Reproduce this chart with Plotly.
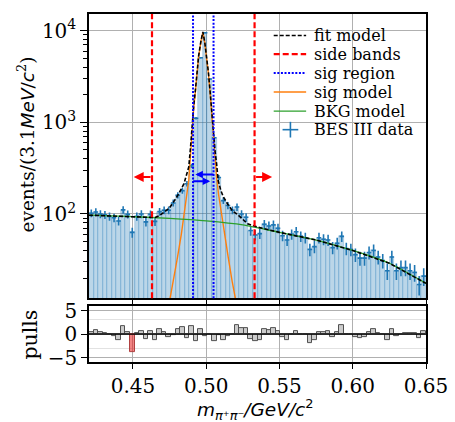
import numpy as np
import plotly.graph_objects as go

# ---------------- data ----------------
x_min, x_max = 0.42, 0.65
n_bins = 74
bin_w = (x_max - x_min) / n_bins
bin_centers = [x_min + (i + 0.5) * bin_w for i in range(n_bins)]

counts = [102, 105, 100, 98, 94, 91, 84, 111, 99, 63,
          94, 100, 82, 99, 83, 106, 110, 110, 132, 160,
          180, 214, 336, 1110, 5060, 9500, 2970, 678, 250, 140,
          124, 110, 119, 100, 92, 66, 59, 61, 77, 74,
          76, 70, 58, 52, 60, 64, 57, 55, 41, 44,
          55, 53, 52, 43, 48, 57, 42, 41, 36, 33,
          33, 38, 40, 34, 31, 24, 34, 24, 26, 26,
          24, 23, 17, 21]

pulls = [0.5, 0.8, 0.4, 0.2, -0.1, -0.4, -1.2, 1.6, 0.5, -3.9,
         0.1, 0.7, -1.1, 0.7, -1.3, 1.0, 0.5, -0.6, -0.3, 1.0,
         1.5, -0.9, 1.6, -1.6, 1.0, -0.4, 0.0, -1.6, -0.2, -1.3,
         -0.4, 0.0, 1.9, 1.2, 1.2, -1.1, -1.6, -1.2, 1.0, 0.8,
         1.2, 0.7, -0.6, -1.3, 0.0, 0.7, 0.0, -0.1, -2.0, -1.3,
         0.5, 0.5, 0.6, -0.6, 0.4, 1.8, 0.0, 0.0, -0.6, -0.9,
         -0.7, 0.4, 1.0, 0.3, 0.0, -1.2, 1.0, -0.5, 0.0, 0.3,
         0.3, 0.3, -0.8, 0.6]

fit_x = [0.420, 0.440, 0.460, 0.465, 0.4681, 0.4714, 0.4748, 0.4781, 0.4814,
         0.4848, 0.4881, 0.4893, 0.4903, 0.4915, 0.4926, 0.4948, 0.4964,
         0.4977, 0.4990, 0.5006, 0.5015, 0.5027, 0.5037, 0.5049, 0.5060,
         0.5071, 0.5082, 0.5100, 0.5115, 0.5149, 0.5180, 0.5216, 0.5250,
         0.5283, 0.535, 0.550, 0.575, 0.600, 0.625, 0.650]
fit_y = [97, 94.7, 92, 91.5, 96, 105, 116, 138, 168,
         214, 326, 535, 940, 1540, 2230, 5270, 7700,
         9700, 7500, 4800, 3495, 2140, 1300, 735, 490,
         350, 230, 180, 156, 126, 108, 98, 87,
         78, 72, 63, 52, 40, 29, 17.5]

sig_x = [0.4723, 0.4750, 0.4776, 0.4803, 0.4830, 0.4850, 0.4870, 0.4881,
         0.4893, 0.4903, 0.4915, 0.4926, 0.4948, 0.4964, 0.4977, 0.4990,
         0.5006, 0.5015, 0.5027, 0.5037, 0.5049, 0.5060, 0.5071, 0.5084,
         0.5104, 0.5124, 0.5151, 0.5178, 0.5204, 0.5231]
sig_y = [6.5, 11, 18, 33, 60, 100, 165, 235,
         440, 850, 1450, 2140, 5180, 7600, 9600, 7400,
         4700, 3410, 2060, 1220, 650, 400, 250, 165,
         100, 60, 33, 18, 11, 6.5]

bkg_x = [0.42, 0.45, 0.475, 0.50, 0.525, 0.55, 0.575, 0.60, 0.625, 0.65]
bkg_y = [97, 93.5, 89.5, 84, 76, 63, 52, 40, 29, 17.5]

side_bands = [0.463, 0.533]
sig_region = [0.491, 0.505]
# arrows: (tail x, head x, y value)
side_arrows = [(0.463, 0.4505, 253), (0.533, 0.545, 253)]
sig_arrows = [(0.506, 0.4926, 270), (0.4901, 0.5027, 227)]

x_ticks = [0.45, 0.50, 0.55, 0.60, 0.65]
x_ticktext = ["0.45", "0.50", "0.55", "0.60", "0.65"]

legend_labels = ["fit model", "side bands", "sig region", "sig model", "BKG model", "BES III data"]

# ---------------- style ----------------
C0, C1, C2 = "#1f77b4", "#ff7f0e", "#2ca02c"
SERIF = "DejaVu Serif"
SANS = "DejaVu Sans"

# plot-area geometry in pixels (for paper-coordinate placement of decorations)
W, H = 455, 422
ML, MR, MT, MB = 89, 23, 7, 60
PW, PH = W - ML - MR, H - MT - MB


def px2paper(px, py):
    return (px - ML) / PW, (H - MB - py) / PH


line_styles = [
    dict(color="black", width=1.6, dash="4px,2px"),
    dict(color="red", width=2.2, dash="6px,3px"),
    dict(color="blue", width=2, dash="2px,1.6px"),
    dict(color=C1, width=1.4),
    dict(color=C2, width=1.3),
]

fig = go.Figure()

# filled histogram (semi-transparent, like alpha=0.3)
fig.add_trace(go.Bar(
    x=bin_centers, y=counts, width=bin_w, xaxis="x", yaxis="y",
    marker=dict(color="rgba(31,119,180,0.3)", line=dict(color="rgba(31,119,180,0.4)", width=0.6)),
    showlegend=False, hoverinfo="skip"))

# data with error bars
fig.add_trace(go.Scatter(
    x=bin_centers, y=counts, mode="markers", xaxis="x", yaxis="y",
    marker=dict(size=1, color=C0),
    error_x=dict(type="constant", value=bin_w / 2, width=0, thickness=1.6, color=C0),
    error_y=dict(type="data", array=list(np.sqrt(counts)), width=0, thickness=1.6, color=C0),
    showlegend=False))

fig.add_trace(go.Scatter(x=sig_x, y=sig_y, mode="lines", line=line_styles[3],
                         xaxis="x", yaxis="y", showlegend=False))
fig.add_trace(go.Scatter(x=bkg_x, y=bkg_y, mode="lines",
                         line=dict(color=C2, width=1.3, shape="spline", smoothing=0.6),
                         xaxis="x", yaxis="y", showlegend=False))
fig.add_trace(go.Scatter(x=fit_x, y=fit_y, mode="lines", line=line_styles[0],
                         xaxis="x", yaxis="y", showlegend=False))

# pulls
pull_fill = ["rgba(230,30,30,0.55)" if abs(p) > 3 else "rgba(128,128,128,0.4)" for p in pulls]
pull_edge = ["#b04040" if abs(p) > 3 else "#505050" for p in pulls]
fig.add_trace(go.Bar(
    x=bin_centers, y=pulls, width=bin_w, xaxis="x2", yaxis="y2",
    marker=dict(color=pull_fill, line=dict(color=pull_edge, width=1)),
    showlegend=False))

shapes = []
for v in side_bands:
    shapes.append(dict(type="line", xref="x", yref="y domain", x0=v, x1=v, y0=0, y1=1,
                       line=line_styles[1], layer="above"))
for v in sig_region:
    shapes.append(dict(type="line", xref="x", yref="y domain", x0=v, x1=v, y0=0, y1=1,
                       line=line_styles[2], layer="above"))
shapes.append(dict(type="line", xref="x2 domain", yref="y2", x0=0, x1=1, y0=0, y1=0,
                   line=dict(color="black", width=1.2), layer="above"))

annotations = []
for (tx, hx, yv) in side_arrows:
    annotations.append(dict(x=hx, y=np.log10(yv), ax=tx, ay=np.log10(yv), xref="x", yref="y",
                            axref="x", ayref="y", showarrow=True, arrowhead=2, arrowsize=1.0,
                            arrowwidth=2, arrowcolor="red", text=""))
for (tx, hx, yv) in sig_arrows:
    annotations.append(dict(x=hx, y=np.log10(yv), ax=tx, ay=np.log10(yv), xref="x", yref="y",
                            axref="x", ayref="y", showarrow=True, arrowhead=2, arrowsize=0.75,
                            arrowwidth=2, arrowcolor="blue", text=""))

# custom legend (drawn in paper coordinates)
row_py = [29, 48, 67.3, 86.6, 106, 125]
for i, lab in enumerate(legend_labels):
    tx, ty = px2paper(316, row_py[i])
    annotations.append(dict(x=tx, y=ty, xref="paper", yref="paper", xanchor="left", yanchor="middle",
                            text=lab, showarrow=False,
                            font=dict(family=SERIF, size=16, color="black")))
    if i < 5:
        x0, y0 = px2paper(277, row_py[i])
        x1, _ = px2paper(310, row_py[i])
        shapes.append(dict(type="line", xref="paper", yref="paper", x0=x0, x1=x1, y0=y0, y1=y0,
                           line=line_styles[i]))
    else:
        xa, ya = px2paper(286, row_py[i])
        xb, _ = px2paper(302, row_py[i])
        xc, yc0 = px2paper(294, row_py[i] + 8)
        _, yc1 = px2paper(294, row_py[i] - 8)
        shapes.append(dict(type="line", xref="paper", yref="paper", x0=xa, x1=xb, y0=ya, y1=ya,
                           line=dict(color=C0, width=1.6)))
        shapes.append(dict(type="line", xref="paper", yref="paper", x0=xc, x1=xc, y0=yc0, y1=yc1,
                           line=dict(color=C0, width=1.6)))

# axis titles as annotations
ytx, yty = px2paper(25, 140)
annotations.append(dict(x=ytx, y=yty, xref="paper", yref="paper", xanchor="center", yanchor="middle",
                        textangle=-90, showarrow=False,
                        text="events/(3.1<span style='font-family:DejaVu Sans'><i>MeV</i>/<i>c</i></span><sup>2</sup>)",
                        font=dict(family=SERIF, size=18.5, color="black")))
ptx, pty = px2paper(28, 334)
annotations.append(dict(x=ptx, y=pty, xref="paper", yref="paper", xanchor="center", yanchor="middle",
                        textangle=-90, showarrow=False, text="pulls",
                        font=dict(family=SERIF, size=20.5, color="black")))
xtx, xty = px2paper(258, 410.5)
annotations.append(dict(x=xtx, y=xty, xref="paper", yref="paper", xanchor="center", yanchor="middle",
                        showarrow=False,
                        text="<i>m</i><sub><i>π⁺π⁻</i></sub><i>/GeV/c</i><sup>2</sup>",
                        font=dict(family=SANS, size=18.5, color="black")))

grid_c = "#b0b0b0"
axis_common = dict(showline=True, linecolor="black", linewidth=1.5, mirror=True,
                   ticks="outside", tickcolor="black", tickwidth=1.2,
                   tickfont=dict(family=SERIF, size=20, color="black"),
                   gridcolor=grid_c, gridwidth=1, zeroline=False)

minor_vals = [v * m for v in (10, 100, 1000) for m in range(2, 10)]

fig.update_layout(
    width=W, height=H,
    margin=dict(l=ML, r=MR, t=MT, b=MB),
    paper_bgcolor="white", plot_bgcolor="white",
    bargap=0, barmode="overlay",
    showlegend=False,
    xaxis=dict(domain=[0, 1], anchor="y", range=[x_min, x_max], tickvals=x_ticks,
               showticklabels=False, ticklen=6, showgrid=True, **axis_common),
    yaxis=dict(domain=[0.183, 1], anchor="x", type="log", range=[1.08, 4.182],
               tickvals=[100, 1000, 10000],
               ticktext=["10<sup>2</sup>", "10<sup>3</sup>", "10<sup>4</sup>"],
               ticklen=7, showgrid=True,
               minor=dict(tickvals=minor_vals, ticks="outside", ticklen=4, tickcolor="black",
                          tickwidth=1, showgrid=False),
               **axis_common),
    xaxis2=dict(domain=[0, 1], anchor="y2", matches="x", range=[x_min, x_max],
                tickvals=x_ticks, ticktext=x_ticktext, ticklen=5, showgrid=True,
                ticklabelstandoff=0, **axis_common),
    yaxis2=dict(domain=[0, 0.1606], anchor="x2", range=[-5.95, 5.95],
                tickvals=[-5, 0, 5], ticktext=["−5", "0", "5"], ticklen=6, showgrid=True,
                minor=dict(tickvals=[-3, 3], ticks="", showgrid=True, gridcolor="#e2e2e2", gridwidth=1),
                **axis_common),
    shapes=shapes,
    annotations=annotations,
)

fig.write_html("out.html")
